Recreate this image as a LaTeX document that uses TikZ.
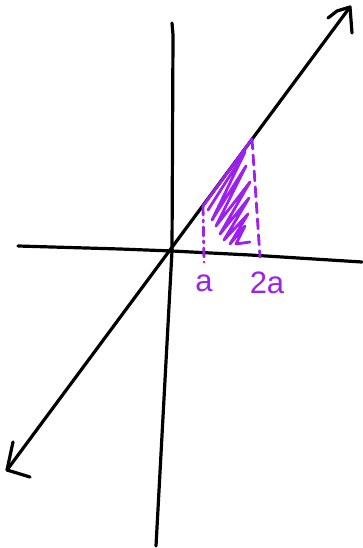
\documentclass[tikz,border=0pt]{standalone}
\usepackage{fontspec}
\setmainfont{Liberation Sans}
\definecolor{pen}{RGB}{158,32,238}
\begin{document}
\begin{tikzpicture}[x=1pt,y=-1pt,
  ink/.style={line width=3.2pt,line cap=round,line join=round,black},
  pink/.style={line width=2.8pt,line cap=round,line join=round,pen},
  lbl/.style={text=pen,font=\fontsize{31}{31}\selectfont,inner sep=0pt}]
\useasboundingbox (0,0) rectangle (362,548);
% axes
\coordinate (yt) at (172,23);
\coordinate (yb) at (156,546);
\coordinate (xl) at (18,246);
\coordinate (xr) at (362,262);
\coordinate (o) at (172,251);
\draw[ink] (yt) -- (173,35) -- (o) -- (yb);
\draw[ink] (xl) -- (120,249) -- (o) -- (250,255) -- (xr);
% diagonal with hand arrows
\coordinate (dt) at (350,7);
\coordinate (db) at (7,470);
\draw[ink] (db) -- (dt);
\draw[ink] (328,18) -- (337,11) -- (dt) -- (352,33);
\draw[ink] (13,442) -- (db) -- (30,477);
% shaded region
\coordinate (pa) at (203,206);
\coordinate (pb) at (252,139);
\coordinate (pab) at (204,262);
\coordinate (pbb) at (260,257);
\draw[pink] (pa) -- (pb);
\draw[pink,dash pattern=on 9pt off 5pt on 2pt off 5pt] (pa) -- (pab);
\draw[pink,dash pattern=on 10pt off 6pt] (pb) -- (pbb);
\draw[pink] (208,210) -- (245,152) -- (212,220) -- (246,166) -- (216,226)
  -- (250,182) -- (220,234) -- (249,198) -- (224,240) -- (248,214)
  -- (230,244) -- (245,226) -- (236,244) -- (250,242);
% labels
\node[lbl] (la) at (204,283) {a};
\node[lbl] (l2a) at (267,283) {2a};
\end{tikzpicture}
\end{document}
